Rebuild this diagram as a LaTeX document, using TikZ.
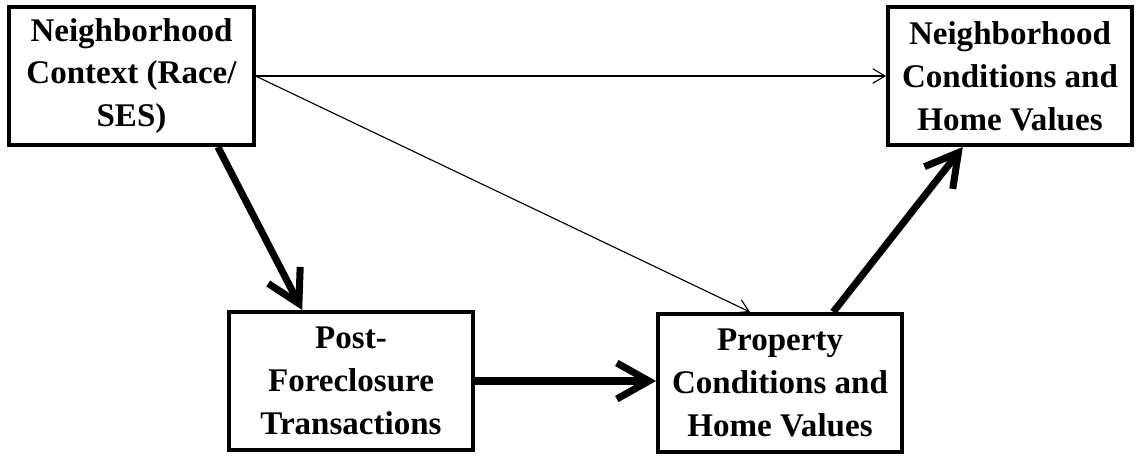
\documentclass[tikz,border=0pt]{standalone}
\usepackage{fontspec}
\setmainfont{Liberation Serif}
\usetikzlibrary{arrows.meta}
\begin{document}
\begin{tikzpicture}[x=0.025cm,y=-0.025cm,
		box/.style={draw,line width=2.8pt,minimum width=6.1cm,minimum height=3.45cm,inner sep=0pt,align=center,
			font=\fontsize{23.5}{30.5}\selectfont\bfseries},
		heavy/.style={line width=5pt,-{Straight Barb[length=8mm,width=9mm]}},
		light/.style={line width=0.8pt,-{Straight Barb[length=3mm,width=3.6mm]}}]
	\useasboundingbox (0,0) rectangle (1136,457);
	\node[box] (ctx)  at (131.5,76)  {Neighborhood\\Context (Race/\\SES)};
	\node[box] (nbh)  at (1010,76)   {Neighborhood\\Conditions and\\Home Values};
	\node[box] (pft)  at (351,381)   {Post-\\Foreclosure\\Transactions};
	\node[box] (prop) at (780,383)   {Property\\Conditions and\\Home Values};
	
	\draw[light] (ctx.east) -- (nbh.west);                          % direct paths
	\draw[light] (ctx.east) -- ([xshift=-0.75cm]prop.north);
	\draw[heavy] ([xshift=2.16cm]ctx.south) -- ([xshift=-1.22cm]pft.north);   % mediated paths
	\draw[heavy] (pft.east) -- (pft.east -| prop.west);
	\draw[heavy] ([xshift=1.33cm]prop.north) -- ([xshift=-1.18cm]nbh.south);
\end{tikzpicture}
\end{document}
